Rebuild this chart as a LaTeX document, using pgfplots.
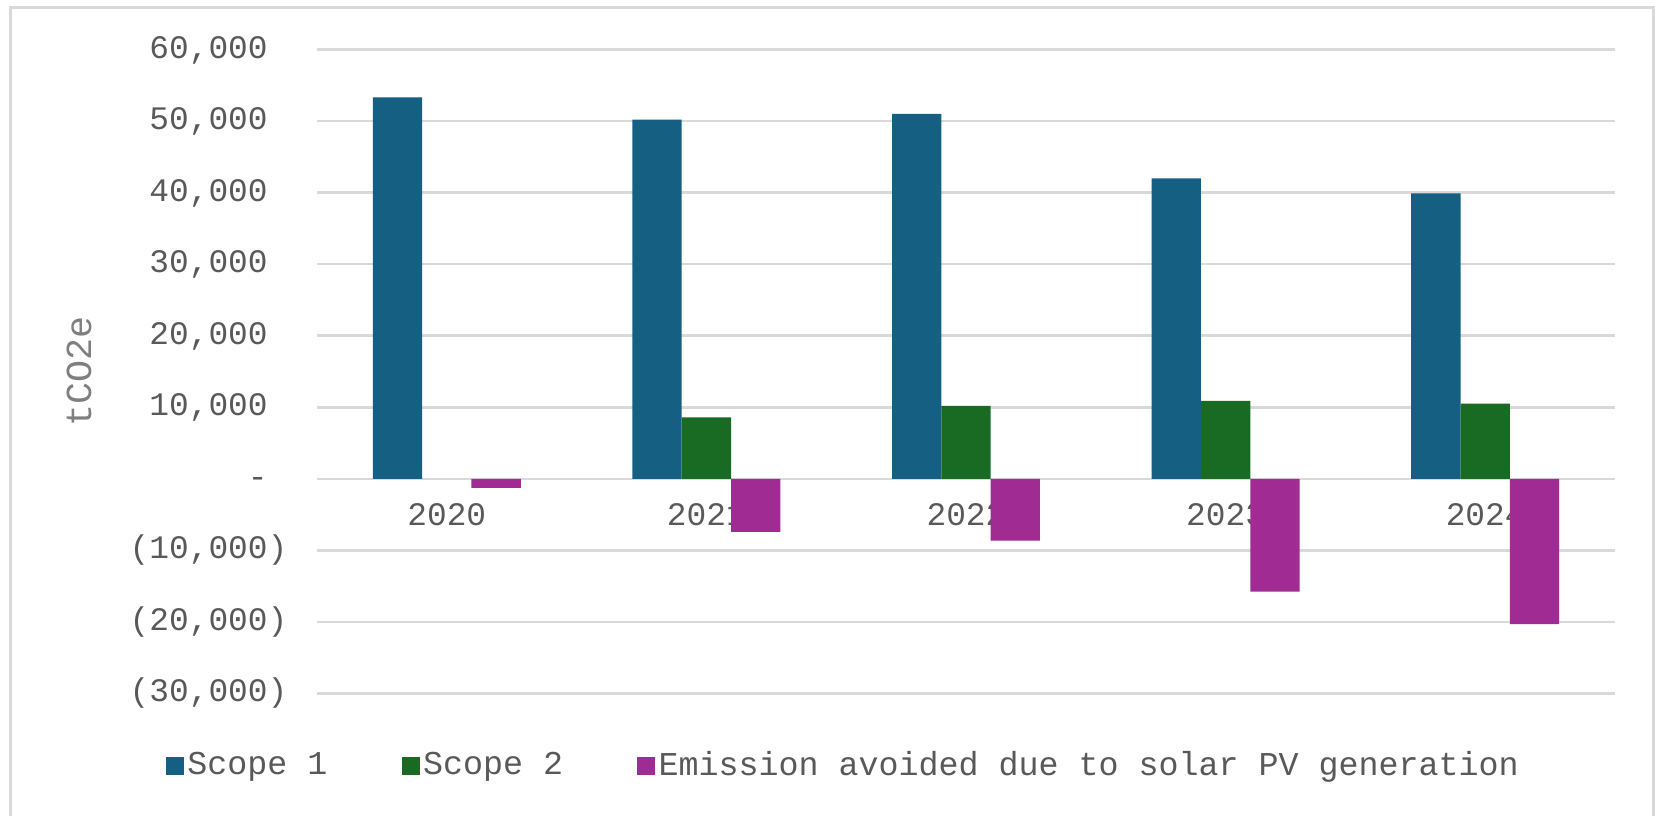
\documentclass[border=0pt]{standalone}
\usepackage{fontspec}
\usepackage{pgfplots}
\pgfplotsset{compat=1.18}
\newfontfamily\mono{Liberation Mono}
\definecolor{sA}{HTML}{156082}
\definecolor{sB}{HTML}{196B24}
\definecolor{sC}{HTML}{A02B93}
\definecolor{gridc}{HTML}{D9D9D9}
\definecolor{txt}{HTML}{595959}
\definecolor{ylc}{HTML}{7F7F7F}
\begin{document}
\begin{tikzpicture}
\draw[gridc, line width=0.9pt] (3pt,-5pt) -- (3pt,242.4pt) -- (495.9pt,242.4pt) -- (495.9pt,-5pt);
\begin{axis}[
  at={(95.1pt,36.45pt)}, anchor=south west,
  scale only axis, width=389.4pt, height=193.2pt,
  set layers,
  ybar=0pt, bar width=0.19,
  xmin=-0.5, xmax=4.5, ymin=-30000, ymax=60000,
  xtick={0,1,2,3,4}, xticklabels={2020,2021,2022,2023,2024},
  ytick={-30000,-20000,...,60000},
  yticklabels={{(30,000)},{(20,000)},{(10,000)},{-\phantom{)}},{10,000\phantom{)}},{20,000\phantom{)}},{30,000\phantom{)}},{40,000\phantom{)}},{50,000\phantom{)}},{60,000\phantom{)}}},
  scaled y ticks=false,
  major tick length=0pt,
  axis line style={draw=none},
  ymajorgrids, major grid style={draw=gridc, line width=0.75pt},
  tick label style={font=\mono\fontsize{9.85}{11}\selectfont, text=txt, inner sep=0pt},
  yticklabel style={anchor=east, xshift=-8.7pt},
  xticklabel style={anchor=north, yshift=57.15pt},
  ylabel={tCO2e},
  ylabel style={at={(axis description cs:-0.1834,0.5)}, anchor=center, font=\mono\fontsize{11}{13}\selectfont, text=ylc},
  legend columns=3,
  legend cell align=left,
  legend image code/.code={\fill[#1] (0pt,-2.7pt) rectangle (5.4pt,2.7pt);},
  legend style={at={(axis description cs:-0.1163,-0.112)}, anchor=west, draw=none, fill=none, inner sep=0pt, outer sep=0pt,
    font=\mono\fontsize{10}{12}\selectfont, text=txt,
    nodes={inner sep=1pt},
    /tikz/every even column/.append style={column sep=21.3pt}},
]
\addplot[fill=sA, draw=none] coordinates {(0,53300) (1,50200) (2,51000) (3,42000) (4,39900)};
\addplot[fill=sB, draw=none] coordinates {(1,8600) (2,10200) (3,10900) (4,10500)};
\addplot[fill=sC, draw=none] coordinates {(0,-1250) (1,-7400) (2,-8650) (3,-15750) (4,-20300)};
\legend{Scope 1, Scope 2, Emission avoided due to solar PV generation}
\end{axis}
\pgfresetboundingbox
\path (0,0) rectangle (496.5pt,244.5pt);
\end{tikzpicture}
\end{document}
